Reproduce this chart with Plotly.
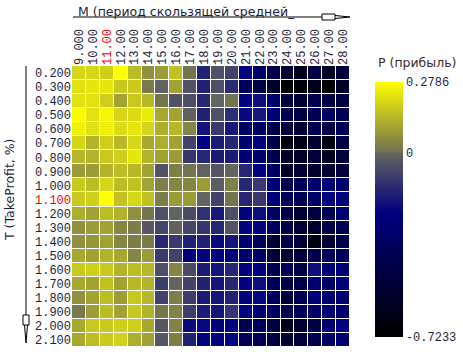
import plotly.graph_objects as go

m_labels = ["9.000", "10.00", "11.00", "12.00", "13.00", "14.00", "15.00", "16.00", "17.00", "18.00",
            "19.00", "20.00", "21.00", "22.00", "23.00", "24.00", "25.00", "26.00", "27.00", "28.00"]
t_labels = ["0.200", "0.300", "0.400", "0.500", "0.600", "0.700", "0.800", "0.900", "1.000", "1.100",
            "1.200", "1.300", "1.400", "1.500", "1.600", "1.700", "1.800", "1.900", "2.000", "2.100"]
highlight_m = "11.00"
highlight_t = "1.100"

profit = [
    [0.195, 0.20, 0.185, 0.2786, 0.15, 0.065, 0.085, 0.16, 0.01, -0.157, -0.045, -0.08, -0.23, -0.34, -0.44, -0.55, -0.61, -0.46, -0.59, -0.50],
    [0.22, 0.23, 0.23, 0.17, 0.175, 0.02, -0.005, 0.10, -0.04, -0.155, -0.05, -0.135, -0.38, -0.46, -0.57, -0.71, -0.69, -0.61, -0.7233, -0.57],
    [0.22, 0.22, 0.185, 0.10, 0.17, 0.14, 0.01, -0.045, -0.055, -0.145, 0.0, 0.01, -0.23, -0.20, -0.30, -0.50, -0.52, -0.42, -0.46, -0.48],
    [0.27, 0.22, 0.26, 0.20, 0.21, 0.24, 0.11, 0.10, -0.01, -0.155, -0.045, -0.13, -0.22, -0.18, -0.27, -0.42, -0.48, -0.40, -0.34, -0.42],
    [0.25, 0.22, 0.25, 0.21, 0.23, 0.195, 0.12, 0.14, 0.045, -0.19, -0.10, -0.18, -0.34, -0.36, -0.44, -0.50, -0.53, -0.42, -0.46, -0.40],
    [0.195, 0.13, 0.185, 0.14, 0.20, 0.11, 0.12, 0.10, -0.08, -0.23, -0.17, -0.145, -0.30, -0.23, -0.46, -0.67, -0.63, -0.55, -0.65, -0.46],
    [0.14, 0.13, 0.17, 0.185, 0.23, 0.13, 0.10, 0.085, -0.11, -0.145, -0.17, -0.17, -0.27, -0.34, -0.42, -0.57, -0.57, -0.50, -0.59, -0.50],
    [0.085, 0.085, 0.13, 0.15, 0.14, 0.10, -0.04, 0.03, 0.01, -0.005, -0.03, 0.0, -0.145, -0.23, -0.36, -0.57, -0.53, -0.55, -0.53, -0.50],
    [0.175, 0.15, 0.195, 0.15, 0.16, 0.10, 0.03, 0.045, 0.045, 0.085, -0.02, 0.03, -0.145, -0.10, -0.26, -0.42, -0.38, -0.30, -0.27, -0.30],
    [0.175, 0.185, 0.2786, 0.16, 0.20, 0.16, 0.03, 0.085, 0.085, 0.0, -0.08, 0.01, -0.145, -0.10, -0.26, -0.38, -0.40, -0.34, -0.23, -0.26],
    [0.12, 0.10, 0.15, 0.13, 0.065, 0.01, -0.05, 0.0, -0.06, -0.12, -0.18, -0.05, -0.23, -0.20, -0.34, -0.44, -0.52, -0.48, -0.40, -0.30],
    [0.065, 0.085, 0.10, 0.045, 0.03, -0.03, -0.07, -0.005, -0.07, -0.11, -0.145, -0.04, -0.23, -0.23, -0.36, -0.46, -0.52, -0.55, -0.46, -0.40],
    [0.065, 0.075, 0.10, 0.045, 0.03, 0.02, -0.145, -0.10, -0.155, -0.155, -0.22, -0.19, -0.30, -0.38, -0.52, -0.44, -0.52, -0.65, -0.52, -0.44],
    [0.11, 0.10, 0.13, 0.11, 0.045, 0.085, -0.10, -0.08, -0.24, -0.23, -0.23, -0.26, -0.30, -0.34, -0.50, -0.53, -0.50, -0.44, -0.38, -0.38],
    [0.175, 0.185, 0.175, 0.13, 0.15, 0.14, -0.05, 0.045, -0.06, -0.17, -0.19, -0.145, -0.23, -0.24, -0.42, -0.38, -0.46, -0.20, -0.27, -0.27],
    [0.11, 0.10, 0.16, 0.10, 0.14, 0.13, -0.09, 0.0, -0.08, -0.155, -0.19, -0.145, -0.23, -0.20, -0.38, -0.46, -0.44, -0.30, -0.34, -0.27],
    [0.065, 0.10, 0.15, 0.085, 0.17, 0.14, -0.08, 0.03, -0.09, -0.17, -0.19, -0.155, -0.23, -0.22, -0.38, -0.50, -0.42, -0.27, -0.30, -0.30],
    [0.02, 0.09, 0.15, 0.10, 0.17, 0.13, 0.015, 0.04, -0.09, -0.17, -0.19, -0.11, -0.23, -0.27, -0.34, -0.42, -0.38, -0.34, -0.27, -0.30],
    [0.11, 0.17, 0.175, 0.185, 0.185, 0.11, -0.03, 0.04, -0.21, -0.22, -0.23, -0.23, -0.42, -0.38, -0.46, -0.61, -0.53, -0.46, -0.30, -0.23],
    [0.11, 0.15, 0.175, 0.19, 0.12, 0.10, -0.03, 0.03, -0.155, -0.23, -0.23, -0.23, -0.38, -0.38, -0.46, -0.53, -0.50, -0.42, -0.34, -0.30],
]
z_min = -0.7233
z_max = 0.2786

W, H = 463, 352
L, R, T, B = 72, 350, 66, 347  # plot area in pixels


def px(x):
    return (x - L) / (R - L)


def py(y):
    return (B - y) / (B - T)


zero_frac = (0 - z_min) / (z_max - z_min)
colorscale = [
    [0.0, "rgb(0,0,0)"],
    [0.486, "rgb(0,0,128)"],
    [zero_frac, "rgb(100,100,96)"],
    [zero_frac + 0.003, "rgb(112,112,80)"],
    [1.0, "rgb(255,255,0)"],
]

mono = "Liberation Mono, Courier New, monospace"
sans = "DejaVu Sans, Verdana, sans-serif"
txt_col = "#1e1e3c"


def lab(s, hl):
    return f"<span style='color:#ff0000'>{s}</span>" if s == hl else s


fig = go.Figure(go.Heatmap(
    z=profit,
    x=list(range(len(m_labels))),
    y=list(range(len(t_labels))),
    zmin=z_min, zmax=z_max,
    colorscale=colorscale,
    xgap=1, ygap=1,
    colorbar=dict(
        thickness=28, thicknessmode="pixels",
        len=255, lenmode="pixels",
        x=px(375), xanchor="left", xref="paper",
        y=py(209.5), yanchor="middle", yref="paper",
        xpad=0, ypad=0, outlinewidth=0,
        tickvals=[z_max, 0, z_min],
        ticktext=["0.2786", "0", "-0.7233"],
        tickfont=dict(family=mono, size=12, color=txt_col),
        ticks="", ticklen=0,
    ),
))

fig.update_xaxes(
    side="top", tickangle=-90,
    tickvals=list(range(len(m_labels))),
    ticktext=[lab(s, highlight_m) for s in m_labels],
    tickfont=dict(family=mono, size=12, color=txt_col),
    showgrid=False, zeroline=False, ticks="", showline=False,
    range=[-0.5, len(m_labels) - 0.5],
)
fig.update_yaxes(
    autorange=False, range=[len(t_labels) - 0.5, -0.5],
    tickvals=list(range(len(t_labels))),
    ticktext=[lab(s, highlight_t) for s in t_labels],
    tickfont=dict(family=mono, size=12, color=txt_col),
    showgrid=False, zeroline=False, ticks="", showline=False,
)

shapes = []
line = dict(color="black", width=1)
# top arrow
shapes.append(dict(type="line", xref="paper", yref="paper", x0=px(73), x1=px(322), y0=py(17), y1=py(17), line=line))
shapes.append(dict(type="rect", xref="paper", yref="paper", x0=px(322), x1=px(335), y0=py(14), y1=py(20), line=line, fillcolor="white"))
shapes.append(dict(type="line", xref="paper", yref="paper", x0=px(335), x1=px(350), y0=py(15.5), y1=py(17), line=line))
shapes.append(dict(type="line", xref="paper", yref="paper", x0=px(335), x1=px(350), y0=py(18.5), y1=py(17), line=line))
# left arrow
shapes.append(dict(type="line", xref="paper", yref="paper", x0=px(26), x1=px(26), y0=py(66), y1=py(315), line=line))
shapes.append(dict(type="rect", xref="paper", yref="paper", x0=px(23), x1=px(29), y0=py(315), y1=py(325), line=line, fillcolor="white"))
shapes.append(dict(type="line", xref="paper", yref="paper", x0=px(24.5), x1=px(26), y0=py(325), y1=py(343), line=line))
shapes.append(dict(type="line", xref="paper", yref="paper", x0=px(27.5), x1=px(26), y0=py(325), y1=py(343), line=line))
# zero marker on colorbar
y0px = 82 + (z_max - 0) / (z_max - z_min) * 255
shapes.append(dict(type="line", xref="paper", yref="paper", x0=px(375), x1=px(403), y0=py(y0px), y1=py(y0px), line=dict(color="white", width=1.5)))

annotations = [
    dict(text="M (период скользящей средней_", xref="paper", yref="paper", x=px(76), y=py(12),
         xanchor="left", yanchor="middle", showarrow=False, font=dict(family=sans, size=12.5, color=txt_col)),
    dict(text="T (TakeProfit, %)", xref="paper", yref="paper", x=px(9), y=py(190), textangle=-90,
         xanchor="center", yanchor="middle", showarrow=False, font=dict(family=sans, size=12.5, color=txt_col)),
    dict(text="P (прибыль)", xref="paper", yref="paper", x=px(417), y=py(62),
         xanchor="center", yanchor="middle", showarrow=False, font=dict(family=sans, size=12.5, color="#3a2a28")),
]

fig.update_layout(
    width=W, height=H,
    margin=dict(l=L, r=W - R, t=T, b=H - B, pad=0),
    paper_bgcolor="white", plot_bgcolor="white",
    shapes=shapes, annotations=annotations,
    showlegend=False,
)

fig.write_html("out.html")
